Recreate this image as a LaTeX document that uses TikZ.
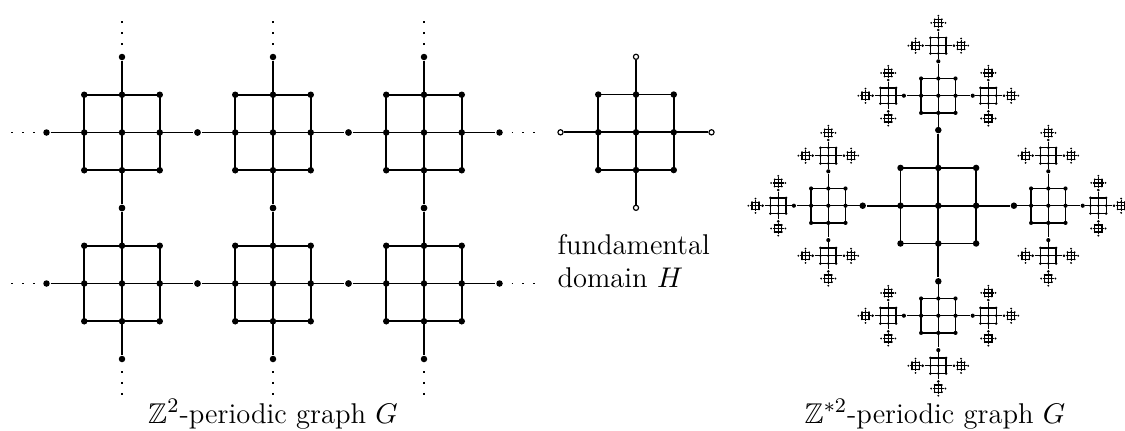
\documentclass[tikz,border=0pt]{standalone}
\usepackage{amssymb}
\usetikzlibrary{calc}
\newcommand{\Lbl}{\fontsize{11}{12.5}\selectfont}
\tikzset{
  vx/.style={circle,fill=black,inner sep=0pt,minimum size=2.5pt},
  armvx/.style={vx},
  hole/.style={circle,draw=black,fill=white,inner sep=0pt,line width=0.45pt,minimum size=2pt},
  lv0/.style={line width=0.65pt},
  lv1/.style={line width=0.6pt,vx/.style={circle,fill=black,inner sep=0pt,minimum size=1.6pt}},
  lv2/.style={line width=0.5pt,vx/.style={circle,fill=black,inner sep=0pt,minimum size=1.1pt}},
  lv3/.style={line width=0.45pt,vx/.style={circle,fill=black,inner sep=0pt,minimum size=0.8pt}},
  dotline/.style={line width=0.65pt,dash pattern=on 0.65pt off 3.55pt}
}
% one cell: [level style]{name}{x}{y}{unit}
\newcommand{\hcell}[5][lv0]{%
  \begin{scope}[#1]
    \foreach \i/\ci in {-1/b,0/c,1/d}{\foreach \j/\cj in {-1/b,0/c,1/d}{
      \node[vx] (#2\ci\cj) at ({#3+\i*#5},{#4+\j*#5}) {};}}
    \foreach \i/\j/\ci in {-2/0/ac,2/0/ec,0/-2/ca,0/2/ce}{
      \node[armvx] (#2\ci) at ({#3+\i*#5},{#4+\j*#5}) {};}
    \draw (#2bb.center) rectangle (#2dd.center);
    \draw (#2ac) -- (#2ec) (#2ca) -- (#2ce);
  \end{scope}}

\begin{document}
\begin{tikzpicture}[x=0.385pt,y=-0.385pt,font=\Lbl]
  \useasboundingbox (0,0) rectangle (1125,430);
  % periodic graph
  \foreach \col/\x in {1/122,2/273,3/424}{\foreach \row/\y in {1/132.5,2/283.5}{
    \hcell{g\col\row}{\x}{\y}{37.75}}}
  \foreach \row in {1,2}{
    \draw[dotline] ($(g1\row ac)+(-12,0)$) -- ++(-24,0);
    \draw[dotline] ($(g3\row ec)+(12,0)$) -- ++(24,0);}
  \foreach \col in {1,2,3}{
    \draw[dotline] ($(g\col1ca)+(0,-12)$) -- ++(0,-24);
    \draw[dotline] ($(g\col2ce)+(0,12)$) -- ++(0,24);}
  \node[anchor=base] (lz) at (273,423) {$\mathbb{Z}^2$-periodic graph $G$};
  % fundamental domain
  \hcell[lv0,armvx/.style={hole}]{h}{636}{132.3}{37.75}
  \node[anchor=north west,align=left,inner sep=0pt] (lh) at (557,234) {fundamental\\domain $H$};
  % free product graph
  \def\zx{938.3}\def\zy{205.7}\def\zu{37.8}\def\zr{0.455}
  \hcell{z}{\zx}{\zy}{\zu}
  \foreach \ax/\ay in {1/0,-1/0,0/1,0/-1}{
    \pgfmathsetmacro\uA{\zu*\zr}
    \pgfmathsetmacro\xA{\zx+2*\ax*(\zu+\uA)}
    \pgfmathsetmacro\yA{\zy+2*\ay*(\zu+\uA)}
    \hcell[lv1]{zA\ax\ay}{\xA}{\yA}{\uA}
    \foreach \bx/\by in {1/0,-1/0,0/1,0/-1}{
      \pgfmathtruncatemacro\back{((\bx)+(\ax)==0)&&((\by)+(\ay)==0)}
      \ifnum\back=0
        \pgfmathsetmacro\uB{\uA*\zr}
        \pgfmathsetmacro\xB{\xA+2*\bx*(\uA+\uB)}
        \pgfmathsetmacro\yB{\yA+2*\by*(\uA+\uB)}
        \hcell[lv2]{zB\ax\ay\bx\by}{\xB}{\yB}{\uB}
        \foreach \cx/\cy in {1/0,-1/0,0/1,0/-1}{
          \pgfmathtruncatemacro\backc{((\cx)+(\bx)==0)&&((\cy)+(\by)==0)}
          \ifnum\backc=0
            \pgfmathsetmacro\uC{\uB*\zr}
            \pgfmathsetmacro\xC{\xB+2*\cx*(\uB+\uC)}
            \pgfmathsetmacro\yC{\yB+2*\cy*(\uB+\uC)}
            \hcell[lv3]{zC\ax\ay\bx\by\cx\cy}{\xC}{\yC}{\uC}
          \fi}
      \fi}}
  \node[anchor=base] (lf) at (935,423) {$\mathbb{Z}^{*2}$-periodic graph $G$};
\end{tikzpicture}
\end{document}
